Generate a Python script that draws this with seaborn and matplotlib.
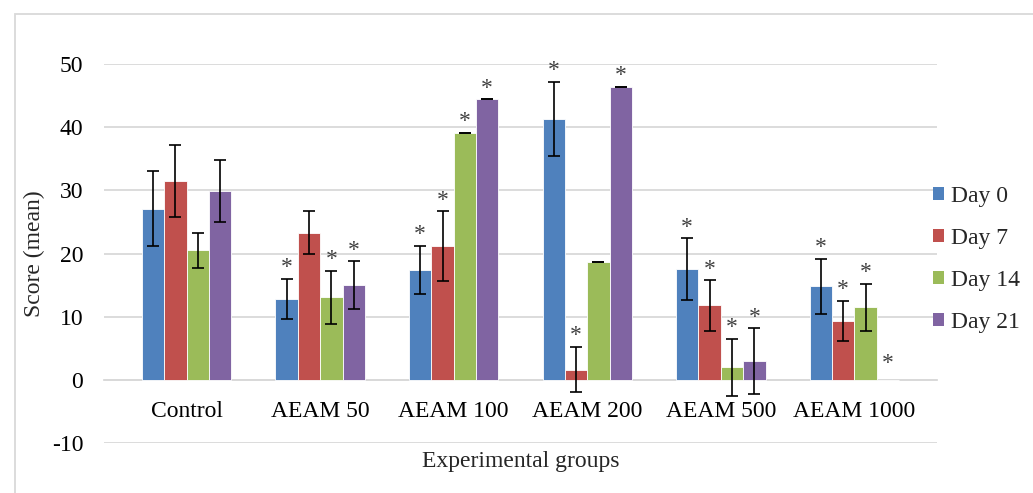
import numpy as np
import pandas as pd
import matplotlib
matplotlib.use("Agg")
import matplotlib.pyplot as plt
import seaborn as sns
from matplotlib.patches import Rectangle

# ---------------- data ----------------
groups = ["Control", "AEAM 50", "AEAM 100", "AEAM 200", "AEAM 500", "AEAM 1000"]
days = ["Day 0", "Day 7", "Day 14", "Day 21"]

day0 = [27.1, 12.8, 17.4, 41.3, 17.5, 14.8]
day7 = [31.4, 23.3, 21.2, 1.6, 11.8, 9.3]
day14 = [20.5, 13.1, 39.1, 18.7, 2.0, 11.5]
day21 = [29.9, 15.0, 44.4, 46.4, 3.0, 0.0]

day0_err = [5.9, 3.2, 3.8, 5.9, 4.9, 4.4]
day7_err = [5.7, 3.4, 5.5, 3.6, 4.0, 3.2]
day14_err = [2.8, 4.2, 0.0, 0.0, 4.5, 3.7]
day21_err = [4.9, 3.8, 0.0, 0.0, 5.2, 0.0]

# significance marks (1 = asterisk)
day0_sig = [0, 1, 1, 1, 1, 1]
day7_sig = [0, 0, 1, 1, 1, 1]
day14_sig = [0, 1, 1, 0, 1, 1]
day21_sig = [0, 1, 1, 1, 1, 1]

yticks = [-10, 0, 10, 20, 30, 40, 50]

colors = ["#4F81BD", "#C0504D", "#9BBB59", "#8064A2"]

values = [day0, day7, day14, day21]
errors = [day0_err, day7_err, day14_err, day21_err]
sigs = [day0_sig, day7_sig, day14_sig, day21_sig]

df = pd.DataFrame({
    "group": [g for _ in days for g in groups],
    "day": [d for d in days for _ in groups],
    "score": [v for vals in values for v in vals],
})

# ---------------- style ----------------
sns.set_theme(style="white")
plt.rcParams["font.family"] = ["Liberation Serif", "DejaVu Serif"]
plt.rcParams["axes.unicode_minus"] = False

W, H = 1033, 493
fig = plt.figure(figsize=(W / 100, H / 100), dpi=100)

# outer chart-area border
fig.add_artist(Rectangle((15 / W, -0.1), 1.2, 1 - 14 / H + 0.1,
                         transform=fig.transFigure, fill=False,
                         edgecolor="#D9D9D9", linewidth=1.3))

ax = fig.add_axes([104 / W, 1 - 443 / H, 833 / W, 379 / H])

sns.barplot(data=df, x="group", y="score", hue="day", order=groups,
            hue_order=days, palette=colors, saturation=1, width=0.67,
            gap=0, errorbar=None, edgecolor="white", linewidth=0.6, ax=ax)

bar_containers = list(ax.containers)[:len(days)]
for i, cont in enumerate(bar_containers):
    xs, hs, es = [], [], []
    for b, e in zip(cont, errors[i]):
        if b.get_height() > 0 or e > 0:
            xs.append(b.get_x() + b.get_width() / 2)
            hs.append(b.get_height())
            es.append(e)
    ax.errorbar(xs, hs, yerr=es, fmt="none", ecolor="black",
                elinewidth=1.2, capsize=4.5, capthick=1.2, zorder=4)
    for b, e, s in zip(cont, errors[i], sigs[i]):
        if s:
            x = b.get_x() + b.get_width() / 2
            off = 11 if (b.get_height() > 0 or e > 0) else 16
            ax.annotate("*", (x, b.get_height() + e), xytext=(0, off),
                        textcoords="offset pixels", ha="center",
                        va="center", fontsize=17, color="#404040")

ax.set_ylim(-10, 50)
ax.set_yticks(yticks)
ax.set_yticklabels([str(t) for t in yticks])
ax.yaxis.grid(True, color="#D9D9D9", linewidth=1.3)
ax.set_axisbelow(True)
for s in ["left", "right", "top"]:
    ax.spines[s].set_visible(False)
ax.spines["bottom"].set_position(("data", 0))
ax.spines["bottom"].set_color("#D9D9D9")
ax.spines["bottom"].set_linewidth(1.3)
ax.spines["bottom"].set_zorder(0.5)

ax.tick_params(axis="both", length=0, labelsize=17, colors="black")
ax.tick_params(axis="y", pad=15)
ax.tick_params(axis="x", pad=15)

ax.set_xlabel("Experimental groups", fontsize=17)
ax.xaxis.set_label_coords(0.5, -0.02)
ax.set_ylabel("Score (mean)", fontsize=17)
ax.yaxis.set_label_coords(-0.071, 0.5)

handles, labels = ax.get_legend_handles_labels()
ax.get_legend().remove()
for h in handles:
    h.set_edgecolor("none")
fig.legend(handles, labels, loc="center left",
           bbox_to_anchor=(933 / W, 1 - 259.5 / H), frameon=False,
           fontsize=17, handlelength=0.47, handleheight=0.47,
           handletextpad=0.3, labelspacing=0.9, borderpad=0,
           borderaxespad=0)

fig.savefig("out.png", dpi=100)
